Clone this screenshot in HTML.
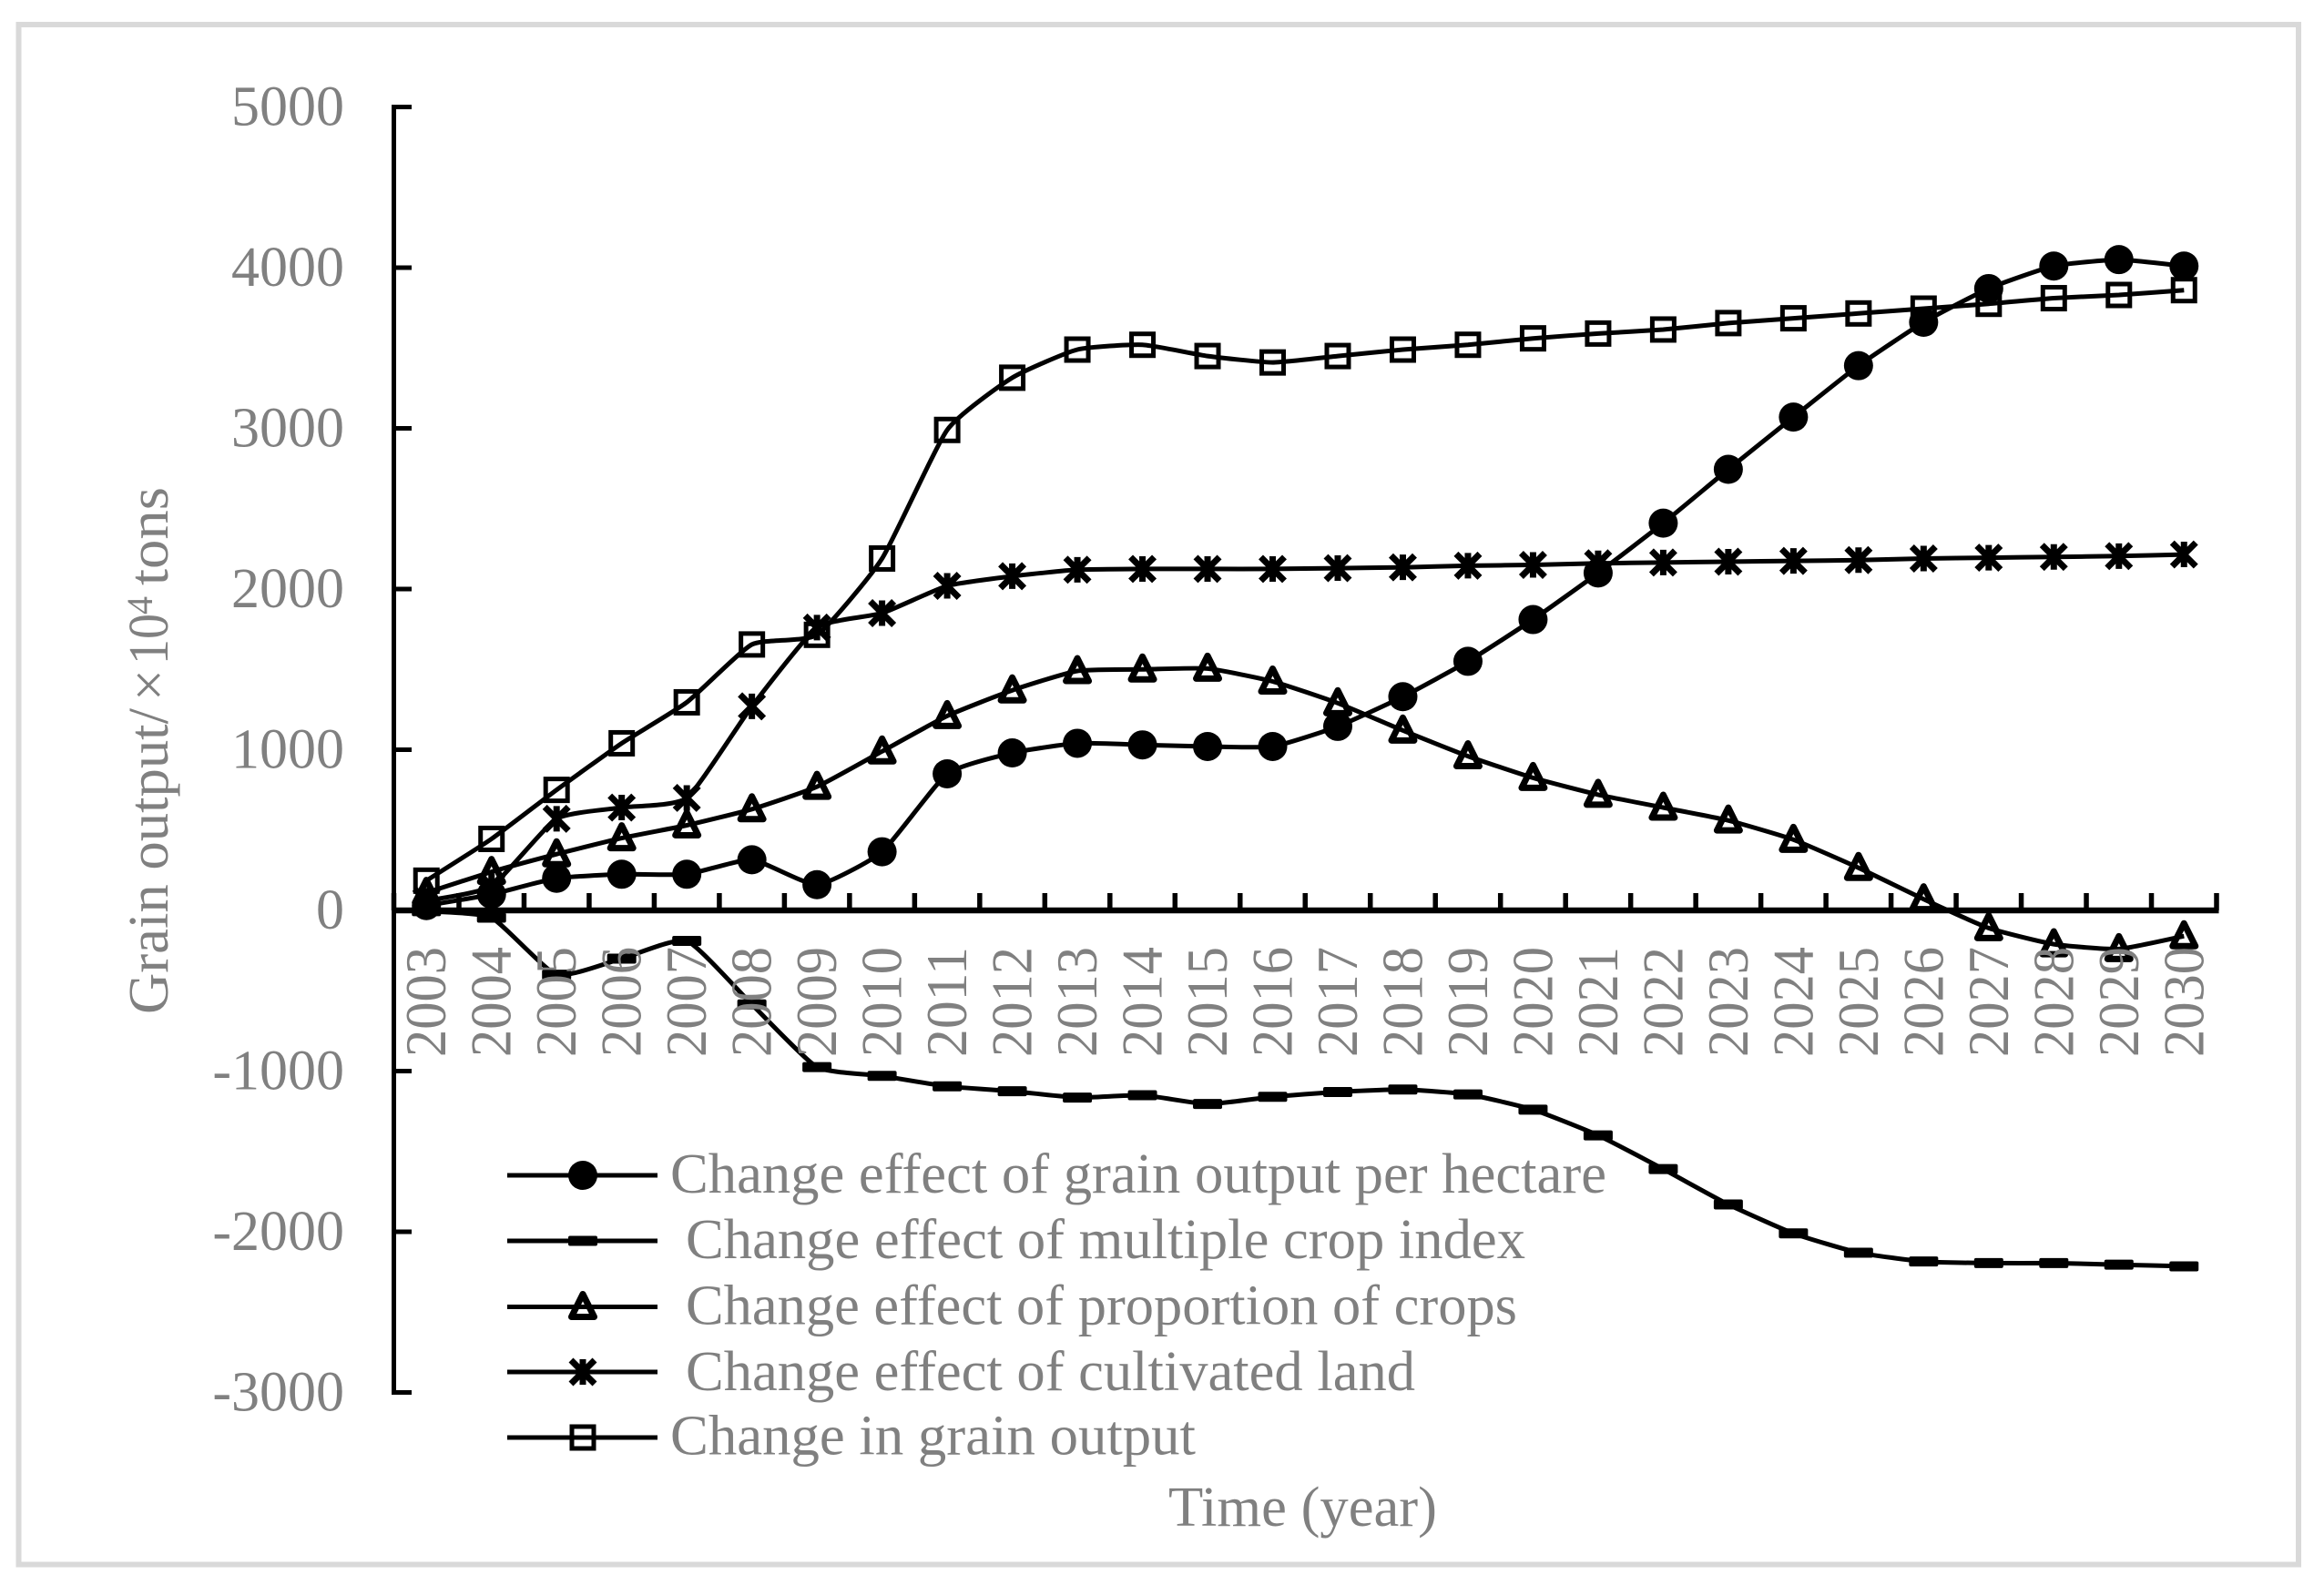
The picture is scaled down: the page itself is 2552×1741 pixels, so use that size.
<!DOCTYPE html>
<html lang="en">
<head>
<meta charset="utf-8">
<title>Grain output change effects</title>
<style>
html,body{margin:0;padding:0;background:#fff;}
svg{display:block;}
text{font-family:"Liberation Serif","Times New Roman",serif;fill:#808080;}
</style>
</head>
<body>
<svg id="chart" xmlns="http://www.w3.org/2000/svg" width="2552" height="1741" viewBox="0 0 2552 1741">
  <rect x="0" y="0" width="2552" height="1741" fill="#ffffff"/>
  <rect x="20.5" y="27" width="2503.5" height="1691.5" fill="none" stroke="#d9d9d9" stroke-width="6"/>
  <g id="series-layer"></g>
  <g id="axis-layer"></g>
  <g id="legend-layer"></g>
  <text transform="translate(184,1114) rotate(-90)" font-size="62"><tspan x="0" y="0" textLength="336" lengthAdjust="spacingAndGlyphs">Grain output/</tspan><tspan x="344" y="0">×</tspan><tspan x="384" y="0" textLength="56" lengthAdjust="spacingAndGlyphs">10</tspan><tspan x="439" y="-17" font-size="40">4</tspan><tspan x="471" y="0" textLength="108" lengthAdjust="spacingAndGlyphs">tons</tspan></text>
  <text x="1283" y="1676" font-size="62" textLength="295" lengthAdjust="spacingAndGlyphs">Time (year)</text>
</svg>
<script>
const categories = ["2003","2004","2005","2006","2007","2008","2009","2010","2011","2012","2013","2014","2015","2016","2017","2018","2019","2020","2021","2022","2023","2024","2025","2026","2027","2028","2029","2030"];
const yTicks = [5000,4000,3000,2000,1000,0,-1000,-2000,-3000];
const grainPerHectare = [30,100,200,225,225,315,160,365,850,980,1040,1030,1020,1020,1145,1330,1550,1810,2100,2410,2745,3070,3390,3660,3870,4010,4050,4010];
const multipleCropIndex = [-5,-45,-400,-300,-190,-585,-975,-1030,-1095,-1125,-1165,-1150,-1205,-1160,-1130,-1115,-1145,-1240,-1400,-1610,-1830,-2010,-2130,-2185,-2195,-2195,-2205,-2215];
const proportionOfCrops = [110,240,350,450,530,630,770,990,1210,1370,1490,1500,1505,1425,1290,1120,960,825,720,640,560,440,265,70,-110,-210,-240,-160];
const cultivatedLand = [60,150,570,640,700,1270,1760,1850,2020,2080,2120,2125,2125,2125,2130,2135,2145,2150,2160,2165,2170,2175,2180,2190,2195,2200,2205,2215];
const grainOutput = [185,445,750,1040,1295,1655,1715,2190,2990,3315,3490,3520,3450,3410,3450,3490,3520,3560,3590,3615,3655,3685,3715,3745,3775,3810,3830,3860];
const legendLabels = ["Change effect of grain output per hectare","Change effect of multiple crop index","Change effect of proportion of crops","Change effect of cultivated land","Change in grain output"];

const NS = "http://www.w3.org/2000/svg";
const PLOT_LEFT = 432.5, PLOT_RIGHT = 2434, Y_ZERO = 1000, PX_PER_UNIT = 0.1765;
const SMOOTH = 12;
const band = (PLOT_RIGHT - PLOT_LEFT) / categories.length;
function xScale(i){ return PLOT_LEFT + band * (i + 0.5); }
function yScale(v){ return Y_ZERO - v * PX_PER_UNIT; }

function make(tag, attrs, parent){
  const el = document.createElementNS(NS, tag);
  for (const k in attrs) el.setAttribute(k, attrs[k]);
  if (parent) parent.appendChild(el);
  return el;
}

function smoothPath(pts){
  let d = "M" + pts[0][0].toFixed(1) + " " + pts[0][1].toFixed(1);
  for (let i = 0; i < pts.length - 1; i++){
    const p0 = pts[Math.max(i - 1, 0)], p1 = pts[i], p2 = pts[i + 1], p3 = pts[Math.min(i + 2, pts.length - 1)];
    const c1x = p1[0] + (p2[0] - p0[0]) / SMOOTH, c1y = p1[1] + (p2[1] - p0[1]) / SMOOTH;
    const c2x = p2[0] - (p3[0] - p1[0]) / SMOOTH, c2y = p2[1] - (p3[1] - p1[1]) / SMOOTH;
    d += "C" + [c1x, c1y, c2x, c2y, p2[0], p2[1]].map(n => n.toFixed(1)).join(" ");
  }
  return d;
}

function drawMarker(kind, cx, cy, parent){
  let el;
  if (kind === "circle"){
    el = make("circle", {cx: cx, cy: cy, r: 16, fill: "#000"}, parent);
  } else if (kind === "dash"){
    el = make("rect", {x: cx - 16, y: cy - 5.5, width: 32, height: 11, rx: 2, fill: "#000"}, parent);
  } else if (kind === "triangle"){
    const pts = [[cx, cy - 14], [cx + 12.5, cy + 11], [cx - 12.5, cy + 11]].map(p => p.join(",")).join(" ");
    el = make("polygon", {points: pts, fill: "none", stroke: "#000", "stroke-width": 7, "stroke-linejoin": "round"}, parent);
  } else if (kind === "star"){
    const r = 14, dx = 13, dy = 13;
    const d = "M" + (cx - dx) + " " + (cy - dy) + "L" + (cx + dx) + " " + (cy + dy) +
              "M" + (cx + dx) + " " + (cy - dy) + "L" + (cx - dx) + " " + (cy + dy) +
              "M" + cx + " " + (cy - r) + "L" + cx + " " + (cy + r);
    el = make("path", {d: d, fill: "none", stroke: "#000", "stroke-width": 7}, parent);
  } else {
    el = make("rect", {x: cx - 12, y: cy - 12, width: 24, height: 24, fill: "none", stroke: "#000", "stroke-width": 5}, parent);
  }
  return el;
}

const seriesDefs = [
  {name: "grain-output", values: grainOutput, marker: "square"},
  {name: "cultivated-land", values: cultivatedLand, marker: "star"},
  {name: "proportion-of-crops", values: proportionOfCrops, marker: "triangle"},
  {name: "multiple-crop-index", values: multipleCropIndex, marker: "dash"},
  {name: "grain-per-hectare", values: grainPerHectare, marker: "circle"}
];

const seriesLayer = document.getElementById("series-layer");
seriesDefs.forEach(function(s){
  const g = make("g", {}, seriesLayer);
  
  
  const pts = s.values.map((v, i) => [xScale(i), yScale(v)]);
  pts.forEach(function(p, i){
    const m = drawMarker(s.marker, p[0], p[1], g);
    
    
  });
  const line = make("path", {d: smoothPath(pts), fill: "none", stroke: "#000", "stroke-width": 5}, g);
  
  
});

const axisLayer = document.getElementById("axis-layer");
const yAxis = make("line", {x1: PLOT_LEFT, x2: PLOT_LEFT, y1: yScale(yTicks[0]) - 2.5, y2: yScale(yTicks[yTicks.length - 1]) + 2.5, stroke: "#000", "stroke-width": 5}, axisLayer);


const xAxis = make("line", {x1: PLOT_LEFT - 2.5, x2: PLOT_RIGHT + 2.5, y1: Y_ZERO, y2: Y_ZERO, stroke: "#000", "stroke-width": 6.5}, axisLayer);



yTicks.forEach(function(t){
  const y = yScale(t);
  const tick = make("line", {x1: PLOT_LEFT, x2: 452, y1: y, y2: y, stroke: "#000", "stroke-width": 5}, axisLayer);
  
  
  const label = make("text", {x: 378, y: y + 20, "font-size": 62, "text-anchor": "end"}, axisLayer);
  label.textContent = String(t);
  
  
});

for (let i = 0; i <= categories.length; i++){
  const x = PLOT_LEFT + band * i;
  const tick = make("line", {x1: x, x2: x, y1: 981, y2: Y_ZERO, stroke: "#000", "stroke-width": 5.5}, axisLayer);
  
  
}
categories.forEach(function(c, i){
  const bx = xScale(i) + 21, by = 1161;
  const label = make("text", {transform: "translate(" + bx + "," + by + ") rotate(-90)", "font-size": 63, textLength: 121, lengthAdjust: "spacingAndGlyphs"}, axisLayer);
  label.textContent = c;
  
  
});

const legendLayer = document.getElementById("legend-layer");
const legendRows = [
  {marker: "circle", y: 1291, base: 1310, tx: 736, tw: 1028},
  {marker: "dash", y: 1363, base: 1382, tx: 753, tw: 922},
  {marker: "triangle", y: 1435.5, base: 1454.5, tx: 753, tw: 913},
  {marker: "star", y: 1507, base: 1527, tx: 753, tw: 801},
  {marker: "square", y: 1579, base: 1597.5, tx: 736, tw: 577}
];
legendRows.forEach(function(r, i){
  const g = make("g", {}, legendLayer);
  
  
  const mk = drawMarker(r.marker, 640, r.y, g);
  
  
  const sw = make("line", {x1: 557, x2: 722, y1: r.y, y2: r.y, stroke: "#000", "stroke-width": 5}, g);
  
  
  const t = make("text", {x: r.tx, y: r.base, "font-size": 62, textLength: r.tw, lengthAdjust: "spacingAndGlyphs"}, g);
  t.textContent = legendLabels[i];
  
  
});
</script>
</body>
</html>
